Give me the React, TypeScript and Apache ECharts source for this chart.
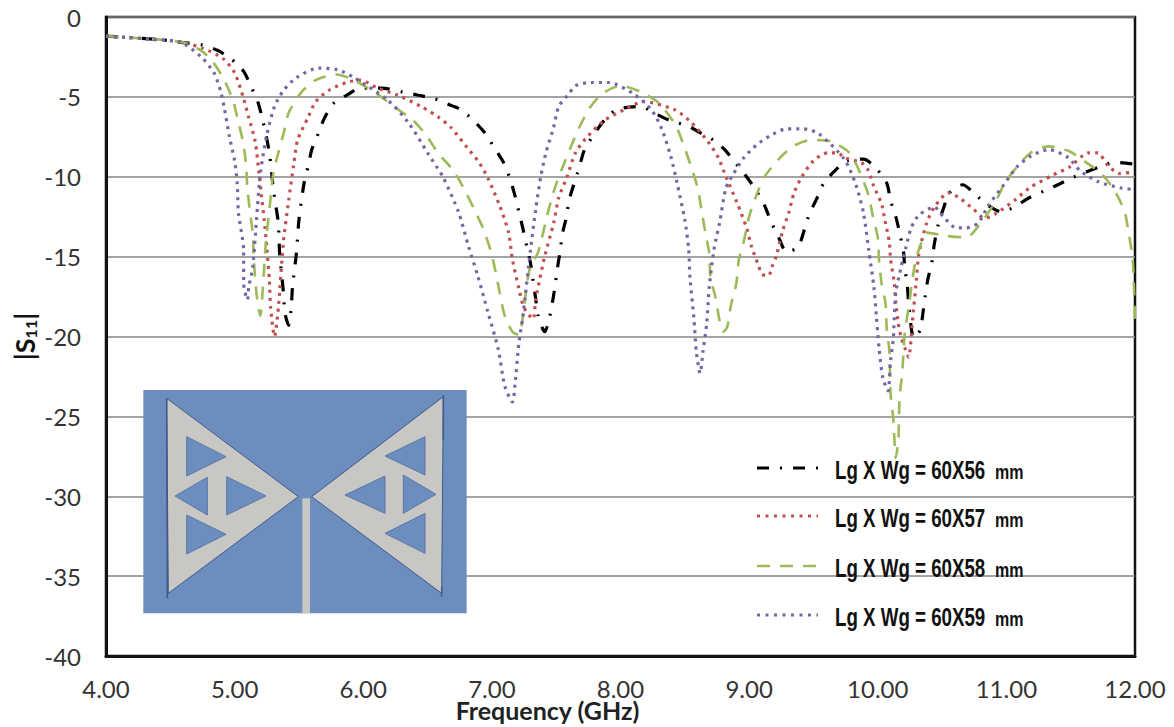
import React, { useEffect, useRef } from "react";
import * as echarts from "echarts";

const xTickStep = 1;
const yTickStep = 5;

const name56 = "Lg X Wg = 60X56";
const name57 = "Lg X Wg = 60X57";
const name58 = "Lg X Wg = 60X58";
const name59 = "Lg X Wg = 60X59";
const unitLabel = "mm";

const freq56 = [4,4.2,4.4,4.6,4.75,4.87,4.97,5.07,5.13,5.18,5.22,5.27,5.30,5.32,5.34,5.35,5.38,5.39,5.42,5.44,5.45,5.48,5.50,5.54,5.57,5.60,5.65,5.70,5.77,5.87,5.98,6.14,6.31,6.43,6.55,6.64,6.76,6.86,6.95,7.02,7.09,7.14,7.18,7.21,7.24,7.27,7.30,7.32,7.34,7.36,7.41,7.44,7.47,7.49,7.51,7.53,7.55,7.58,7.60,7.64,7.68,7.72,7.79,7.87,7.97,8.16,8.26,8.39,8.52,8.63,8.72,8.81,8.91,8.98,9.05,9.12,9.17,9.23,9.29,9.38,9.43,9.47,9.53,9.58,9.67,9.76,9.89,9.99,10.07,10.10,10.14,10.17,10.2,10.21,10.23,10.24,10.28,10.33,10.35,10.37,10.39,10.42,10.44,10.47,10.51,10.56,10.66,10.77,10.86,10.96,11.06,11.18,11.29,11.40,11.50,11.62,11.72,11.84,11.99];
const s56 = [-1.2,-1.3,-1.4,-1.6,-1.75,-2.1,-2.6,-3.4,-4.4,-5.3,-6.5,-8.5,-10.7,-11.8,-12.9,-14.8,-17.3,-18.5,-19.3,-18.2,-16.9,-14.8,-12.7,-10.4,-9.4,-8.3,-7.3,-6.3,-5.4,-4.9,-4.45,-4.45,-4.7,-4.9,-5.1,-5.4,-5.8,-6.5,-7.3,-8.2,-9.1,-10.1,-11.2,-12.2,-13.2,-14.3,-15.4,-16.5,-17.6,-18.7,-19.7,-19.1,-17.9,-16.9,-15.7,-14.7,-13.5,-12.5,-11.5,-10.4,-9.4,-8.3,-7.4,-6.5,-5.8,-5.6,-6,-6.5,-6.8,-7.3,-7.7,-8.3,-9.3,-10,-10.8,-11.8,-12.8,-13.8,-14.7,-14.4,-13.3,-12.3,-11.3,-10.4,-9.6,-9,-8.9,-9.5,-10.4,-11.5,-12.5,-13.5,-14.7,-15.7,-16.8,-17.9,-20.1,-19.6,-18.6,-17.4,-16.4,-15.4,-14.2,-13,-12,-11,-10.5,-11.2,-11.8,-12.2,-11.9,-11.3,-10.9,-10.5,-10.1,-9.7,-9.4,-9.1,-9.2];

const freq57 = [4,4.2,4.4,4.6,4.75,4.91,5.0,5.07,5.11,5.16,5.19,5.21,5.23,5.25,5.27,5.28,5.31,5.34,5.38,5.42,5.46,5.49,5.57,5.63,5.73,5.87,5.98,6.11,6.27,6.45,6.59,6.68,6.81,6.90,6.97,7.06,7.13,7.16,7.21,7.25,7.32,7.34,7.37,7.41,7.48,7.52,7.58,7.65,7.73,7.87,8.03,8.18,8.42,8.55,8.68,8.76,8.82,8.91,8.98,9.02,9.07,9.10,9.15,9.18,9.21,9.26,9.31,9.35,9.41,9.50,9.61,9.69,9.74,9.87,9.92,9.97,10.03,10.05,10.09,10.10,10.13,10.14,10.16,10.18,10.21,10.24,10.27,10.30,10.32,10.38,10.44,10.55,10.63,10.74,10.83,10.92,11.06,11.18,11.36,11.49,11.64,11.71,11.79,11.88,11.99];
const s57 = [-1.2,-1.3,-1.4,-1.6,-1.95,-2.6,-3.5,-5.1,-6.3,-7.8,-9.8,-11.3,-12.7,-14.4,-16.5,-18.2,-20,-18.2,-14,-11.5,-9.2,-7.7,-6.3,-5.3,-4.6,-4.1,-3.95,-4.45,-4.9,-5.6,-6.3,-6.9,-8.2,-9.1,-10.1,-11.8,-13.5,-15.2,-17,-18.2,-18.9,-17.7,-16.5,-15,-12.9,-11.3,-10.1,-8.5,-7.6,-6.5,-5.8,-5.3,-5.8,-6.6,-7.8,-8.8,-10,-11.7,-13.2,-14.4,-15.5,-16.1,-16.2,-15.6,-15,-13.4,-12.2,-11,-10,-9,-8.5,-8.5,-8.8,-9.1,-9.5,-10.6,-11.7,-12.5,-14.1,-15.2,-16.7,-17.9,-19.2,-20,-20.7,-21.3,-19,-16.5,-14.8,-12.9,-11.9,-11,-11.3,-12,-12.6,-12.3,-11.5,-10.7,-9.9,-9.4,-8.5,-8.5,-9.3,-9.8,-9.7];

const freq58 = [4,4.2,4.4,4.6,4.74,4.83,4.92,4.99,5.03,5.07,5.09,5.10,5.12,5.14,5.15,5.16,5.18,5.20,5.22,5.24,5.28,5.30,5.34,5.38,5.42,5.52,5.63,5.79,5.93,6.14,6.24,6.39,6.49,6.58,6.70,6.78,6.86,6.93,6.99,7.03,7.06,7.10,7.16,7.21,7.24,7.29,7.36,7.44,7.49,7.55,7.61,7.68,7.76,7.86,8.0,8.16,8.30,8.43,8.49,8.55,8.60,8.63,8.66,8.69,8.70,8.74,8.77,8.80,8.83,8.86,8.90,8.92,8.96,9.0,9.05,9.12,9.23,9.34,9.48,9.64,9.78,9.86,9.93,9.96,10.0,10.01,10.03,10.06,10.07,10.09,10.10,10.12,10.13,10.14,10.16,10.17,10.19,10.21,10.24,10.29,10.34,10.38,10.53,10.69,10.80,10.92,10.98,11.06,11.19,11.33,11.49,11.62,11.75,11.85,11.92,11.95,11.98,11.99,12];
const s58 = [-1.2,-1.3,-1.4,-1.6,-2.1,-2.8,-3.95,-5.3,-6.6,-8,-9.4,-10.8,-12.2,-13.5,-15.2,-16.4,-18,-18.7,-16.9,-14.4,-11.3,-9.8,-8.5,-7.3,-6,-4.7,-3.95,-3.6,-3.95,-5,-5.6,-6.5,-7.4,-8.5,-9.6,-10.7,-12,-13.2,-14.6,-16,-17.2,-18.7,-19.7,-19.9,-18.8,-15.9,-14.7,-12.1,-10.7,-9.4,-8.2,-6.9,-5.7,-4.8,-4.3,-4.7,-5.4,-6.8,-8,-9.4,-10.7,-12.1,-13.5,-14.8,-16.3,-17.6,-19,-19.7,-19.4,-18,-16.7,-15.2,-14,-12.5,-11.3,-10,-8.9,-8.1,-7.7,-7.8,-8.5,-9.7,-11.2,-12.4,-13.8,-15.2,-16.7,-17.9,-19.5,-20.9,-23.6,-25.1,-26.5,-27.6,-26.5,-23.8,-22.3,-19.8,-18.2,-15.4,-14.1,-13.5,-13.7,-13.8,-12.9,-11.5,-10.5,-9.6,-8.5,-8.1,-8.4,-9.1,-9.9,-11,-12.2,-13.5,-15,-16.4,-19];

const freq59 = [4,4.2,4.35,4.58,4.74,4.84,4.89,4.92,4.96,5.0,5.02,5.03,5.07,5.07,5.10,5.11,5.14,5.17,5.20,5.25,5.31,5.38,5.48,5.65,5.80,5.93,6.19,6.35,6.50,6.58,6.62,6.74,6.82,6.89,6.97,7.05,7.10,7.16,7.18,7.21,7.24,7.30,7.34,7.38,7.42,7.48,7.52,7.60,7.65,7.77,7.91,8.10,8.24,8.32,8.39,8.44,8.50,8.53,8.54,8.57,8.59,8.62,8.64,8.67,8.69,8.73,8.77,8.82,8.88,8.96,9.06,9.17,9.29,9.42,9.54,9.74,9.83,9.89,9.93,9.97,9.99,10.01,10.04,10.08,10.10,10.12,10.14,10.18,10.22,10.26,10.32,10.44,10.51,10.61,10.69,10.78,10.86,10.98,11.08,11.19,11.33,11.48,11.57,11.71,11.89,11.99];
const s59 = [-1.2,-1.3,-1.4,-1.57,-2.5,-3.5,-4.6,-5.7,-7.5,-9,-10.4,-12.3,-14.6,-16.7,-17.7,-16.9,-15.7,-12.7,-9.8,-7.4,-5.6,-4.6,-3.8,-3.2,-3.3,-3.8,-5.2,-6.6,-8.5,-9.5,-10,-12.2,-14.4,-16.2,-18.5,-20.8,-23.1,-24.1,-23,-20.4,-18.8,-14.6,-12.1,-10,-8.5,-6.9,-5.6,-4.8,-4.3,-4.1,-4.1,-4.8,-5.8,-7,-8.7,-10.4,-12.7,-14.5,-16.3,-18.8,-21,-22.3,-21,-19.2,-16.9,-14.4,-12.9,-10.7,-9.8,-8.8,-8,-7.4,-7,-7,-7.3,-8.9,-10.5,-12.3,-14.6,-16.9,-18.8,-20.7,-22.6,-23.4,-21.5,-20.2,-17.3,-15.7,-14.4,-13.2,-12.4,-11.9,-12.5,-13.2,-13.2,-12.9,-11.8,-10.5,-9.4,-8.7,-8.3,-8.8,-9.6,-10.3,-10.7,-10.8];

// Inset antenna outline, in the inset's own drawing units
const insetRect = [40, 30, 970, 670];
const feedRect = [517, 355, 23, 345];
const patches = [
  [[110,55],[505,350],[115,640]],
  [[940,50],[545,350],[935,640]],
];
const slots = [
  [[170,170],[288,230],[170,288]],
  [[232,292],[135,348],[232,405]],
  [[290,290],[408,348],[290,405]],
  [[170,405],[288,463],[170,522]],
  [[885,170],[765,228],[885,285]],
  [[820,285],[918,343],[820,400]],
  [[765,288],[645,345],[765,400]],
  [[885,400],[765,460],[885,520]],
];
const edgeLines = [
  [110, 55, 112, 655],
  [940, 45, 940, 180],
  [935, 620, 935, 650],
];

const BLUE = "#6b8ebf";
const GREY = "#c9c7c4";
const EDGE = "#40598c";
const FONT = "Lato, Carlito, 'Open Sans', sans-serif";
const LEGEND_FONT = "'Liberation Sans', sans-serif";

const zip = (a: number[], b: number[]) => a.map((v, i) => [v, b[i]]);

export default function App() {
  const ref = useRef<HTMLDivElement>(null);
  useEffect(() => {
    document.body.style.margin = "0";
    document.body.style.background = "#fff";
    const chart = echarts.init(ref.current!, undefined, { renderer: "svg" });
    const mk = (name: string, f: number[], s: number[], color: string, width: number, dash: number[]) => ({
      name,
      type: "line",
      data: zip(f, s),
      symbol: "none",
      smooth: 0.25,
      clip: true,
      z: 3,
      lineStyle: { color, width, type: dash, cap: "butt" },
      itemStyle: { color },
    });
    const scale = (v: number) => v / 3;
    const px = (x: number) => 130 + x / 3;
    const py = (y: number) => 380 + y / 3;
    const poly = (pts: number[][], fill: string, stroke?: string) => ({
      type: "polygon",
      z: 5,
      silent: true,
      shape: { points: pts.map(([x, y]) => [px(x), py(y)]) },
      style: { fill, stroke: stroke ?? "transparent", lineWidth: stroke ? 1 : 0 },
    });
    const legendRows = [
      { name: name56, y: 468, stroke: "#000000", width: 3, dash: [12, 11, 2, 11] },
      { name: name57, y: 516, stroke: "#c0504d", width: 3, dash: [3, 5.5] },
      { name: name58, y: 566, stroke: "#9bbb59", width: 2.5, dash: [13, 10] },
      { name: name59, y: 615, stroke: "#7567a5", width: 3, dash: [3, 5.5] },
    ];
    const legendGraphics = legendRows.flatMap((r) => [
      {
        type: "line",
        z: 6,
        silent: true,
        shape: { x1: 757, y1: r.y, x2: 818, y2: r.y },
        style: { stroke: r.stroke, lineWidth: r.width, lineDash: r.dash },
      },
      {
        type: "text",
        z: 6,
        silent: true,
        x: 835,
        y: r.y + 2,
        scaleX: 0.72,
        style: { text: r.name, fill: "#111", font: `bold 26px ${LEGEND_FONT}`, textVerticalAlign: "middle", textAlign: "left" },
      },
      {
        type: "text",
        z: 6,
        silent: true,
        x: 995,
        y: r.y + 4,
        scaleX: 0.8,
        style: { text: unitLabel, fill: "#111", font: `bold 20px ${LEGEND_FONT}`, textVerticalAlign: "middle", textAlign: "left" },
      },
    ]);
    chart.setOption({
      animation: false,
      backgroundColor: "#fff",
      grid: { left: 106, right: 39, top: 17, bottom: 71, outerBoundsMode: "none", show: true, borderColor: "#111", borderWidth: 2.5, backgroundColor: "transparent" },
      xAxis: {
        type: "value",
        min: 4,
        max: 12,
        interval: xTickStep,
        name: "Frequency (GHz)",
        nameLocation: "middle",
        nameMoveOverlap: false,
        nameGap: 42,
        z: 4,
        nameTextStyle: { fontFamily: FONT, fontSize: 25, fontWeight: "bold", color: "#222", verticalAlign: "top", lineHeight: 24, padding: [0, 146, 0, 0] },
        axisLine: { onZero: false, lineStyle: { color: "#111", width: 3 } },
        axisTick: { show: false },
        splitLine: { show: false },
        axisLabel: { formatter: (v: number) => v.toFixed(2), fontFamily: FONT, fontSize: 24, color: "#333", margin: 20 },
      },
      yAxis: {
        type: "value",
        min: -40,
        max: 0,
        interval: yTickStep,
        name: "{b||S}{s|11}{b||}",
        nameLocation: "middle",
        nameMoveOverlap: false,
        nameGap: 68,
        nameRotate: 90,
        nameTextStyle: {
          rich: {
            b: { fontFamily: FONT, fontSize: 27, fontWeight: "bold", color: "#111" },
            s: { fontFamily: FONT, fontSize: 16, fontWeight: "bold", color: "#111", verticalAlign: "bottom", padding: [8, 0, 0, 0] },
          },
        },
        axisLine: { show: true, lineStyle: { color: "#111", width: 3 } },
        axisTick: { show: false },
        splitLine: { show: true, lineStyle: { color: "#868686", width: 1.5 } },
        axisLabel: { fontFamily: FONT, fontSize: 24, color: "#333", margin: 25 },
      },
      graphic: [
        {
          type: "rect",
          z: 5,
          silent: true,
          shape: { x: px(insetRect[0]), y: py(insetRect[1]), width: scale(insetRect[2]), height: scale(insetRect[3]) },
          style: { fill: BLUE },
        },
        ...patches.map((p) => poly(p, GREY, EDGE)),
        ...slots.map((p) => poly(p, BLUE, "#5a78a8")),
        {
          type: "rect",
          z: 5,
          silent: true,
          shape: { x: px(feedRect[0]), y: py(feedRect[1]), width: scale(feedRect[2]), height: scale(feedRect[3]) },
          style: { fill: GREY },
        },
        ...edgeLines.map((l) => ({
          type: "line",
          z: 5,
          silent: true,
          shape: { x1: px(l[0]), y1: py(l[1]), x2: px(l[2]), y2: py(l[3]) },
          style: { stroke: EDGE, lineWidth: 1.5 },
        })),
        ...legendGraphics,
      ],
      series: [
        mk(name56, freq56, s56, "#000000", 3.2, [12, 11, 2, 11]),
        mk(name57, freq57, s57, "#c0504d", 3.2, [3, 5]),
        mk(name58, freq58, s58, "#9bbb59", 2.6, [13, 10]),
        mk(name59, freq59, s59, "#7567a5", 3.2, [3, 5]),
      ],
    });
    return () => chart.dispose();
  }, []);
  return <div ref={ref} style={{ position: "absolute", left: 0, top: 0, width: 1174, height: 727 }} />;
}
